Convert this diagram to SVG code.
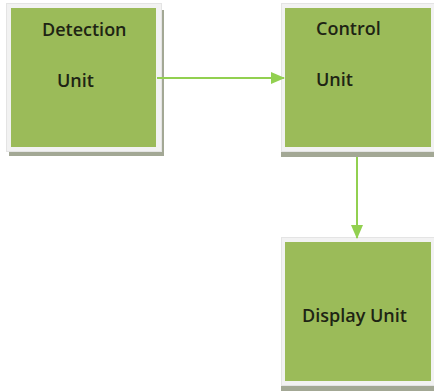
<svg xmlns="http://www.w3.org/2000/svg" width="434" height="391" viewBox="0 0 434 391">
<defs>
<style>
.frame{fill:#f2f2f2;stroke:#e4e4e4;stroke-width:1}
.shadow{fill:#a3a895}
.box{fill:#9bbb59}
.lbl{font-family:"Open Sans",Lato,"Liberation Sans",sans-serif;font-size:18px;font-weight:600;fill:#1e2414;font-variant-ligatures:none}
.conn{stroke:#92d050;stroke-width:2;fill:none}
</style>
<marker id="ah" markerWidth="14" markerHeight="12" refX="13" refY="6" orient="auto" markerUnits="userSpaceOnUse">
<path d="M0,0 L14,6 L0,12 Z" fill="#92d050"/>
</marker>
</defs>
<rect width="434" height="391" fill="#ffffff"/>
<g id="detection">
<rect class="shadow" x="9" y="10" width="155" height="146"/>
<rect class="frame" x="6.5" y="3.5" width="155" height="148"/>
<rect class="box" x="11" y="8" width="145" height="139"/>
<text class="lbl" x="42" y="36">Detection</text>
<text class="lbl" x="57" y="87">Unit</text>
</g>
<g id="control">
<rect class="shadow" x="281" y="10" width="155" height="147"/>
<rect class="frame" x="281.5" y="3.5" width="155" height="148"/>
<rect class="box" x="285" y="8" width="146" height="139"/>
<text class="lbl" x="316" y="35">Control</text>
<text class="lbl" x="316" y="86">Unit</text>
</g>
<g id="display">
<rect class="shadow" x="281" y="244" width="155" height="147"/>
<rect class="frame" x="281.5" y="237.5" width="155" height="148"/>
<rect class="box" x="285" y="242" width="146" height="139"/>
<text class="lbl" x="302" y="322">Display Unit</text>
</g>
<g id="connectors">
<line class="conn" x1="157" y1="78" x2="284" y2="78" marker-end="url(#ah)"/>
<line class="conn" x1="357" y1="157" x2="357" y2="238" marker-end="url(#ah)"/>
</g>
</svg>
